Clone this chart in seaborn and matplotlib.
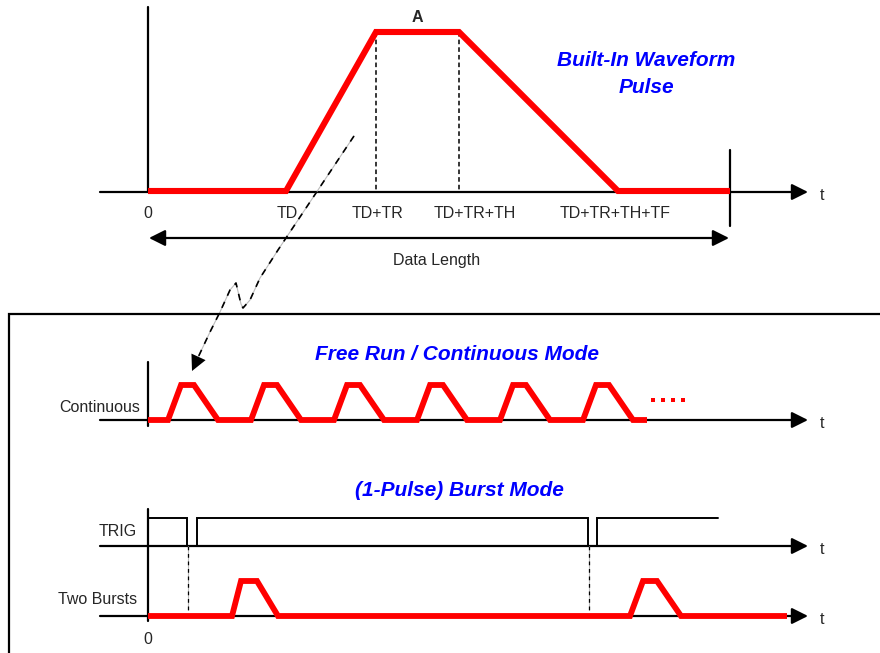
import numpy as np
import pandas as pd
import seaborn as sns
import matplotlib.pyplot as plt

sns.set_style("white")
plt.rcParams['font.family'] = ['Liberation Sans', 'DejaVu Sans']

# ---- data (time offsets from the t=0 axis, amplitudes 0..1) ----
top_t = [0, 138, 228, 311, 470, 582]
top_amp = [0, 0, 1, 1, 0, 0]
top_marks = [0, 139, 229, 327, 467]
top_labels = ["0", "TD", "TD+TR", "TD+TR+TH", "TD+TR+TH+TF"]

cont_t = [0, 20, 33, 46, 70, 103, 116, 129, 153, 186, 199, 212, 236,
          269, 282, 295, 319, 352, 365, 378, 402, 435, 448, 461, 485, 499]
cont_amp = [0, 0, 1, 1, 0, 0, 1, 1, 0, 0, 1, 1, 0,
            0, 1, 1, 0, 0, 1, 1, 0, 0, 1, 1, 0, 0]
more_dots = [505, 515, 525, 535]

trig_t = [0, 39, 39, 49, 49, 440, 440, 449, 449, 570]
trig_lvl = [1, 1, 0, 0, 1, 1, 0, 0, 1, 1]

burst_t = [0, 84, 93, 109, 130, 482, 495, 509, 533, 639]
burst_amp = [0, 0, 1, 1, 0, 0, 1, 1, 0, 0]
trig_edges = [40, 441]

# connector path from the top pulse down to the first continuous pulse
link_x = [206, 166, 130, 112, 102, 95, 93, 88, 82, 72, 62, 46]
link_y = [136, 196, 250, 278, 300, 308, 304, 283, 290, 312, 332, 366]

# ---- layout (pixels) ----
X0 = 148
RED = "#ff0000"
BLUE = "#0000ff"
FS = 11.5
base_top, h_top = 191, 159
base_cont, h_cont = 420, 35
base_trig, h_trig = 546, 28
base_burst, h_burst = 616, 35

fig = plt.figure(figsize=(8.8, 6.53), dpi=100)
ax = fig.add_axes([0, 0, 1, 1])
ax.set_xlim(-X0, 880 - X0)
ax.set_ylim(653, 0)
ax.axis("off")


def axis_arrow(y, x_start=-48, x_end=660):
    ax.annotate("", xy=(x_end, y), xytext=(x_start, y),
                arrowprops=dict(arrowstyle="-|>,head_length=0.7,head_width=0.35",
                                color="black", lw=1.6, shrinkA=0, shrinkB=0,
                                mutation_scale=14), zorder=2)
    ax.text(x_end + 12, y + 3, "t", fontsize=FS, ha="left", va="center")


def wave(t, amp, base, h, **kw):
    df = pd.DataFrame({"t": t, "y": [base - a * h for a in amp]})
    sns.lineplot(data=df, x="t", y="y", ax=ax, sort=False, estimator=None,
                 solid_joinstyle="miter", solid_capstyle="butt", zorder=5, **kw)


# ---- top panel: built-in pulse ----
axis_arrow(base_top + 1)
ax.plot([0, 0], [7, base_top + 1], color="black", lw=1.6)
for t in top_t[2:4]:
    ax.plot([t, t], [base_top - h_top, base_top], color="black", lw=1.1, ls=(0, (3, 2)))
wave(top_t, top_amp, base_top, h_top, color=RED, lw=4.4)
ax.plot([582, 582], [150, 226], color="black", lw=1.6)
for t, lab in zip(top_marks, top_labels):
    ax.text(t, 214, lab, fontsize=FS, ha="center", va="center")
ax.text((top_t[2] + top_t[3]) / 2, 18, "A", fontsize=FS, fontweight="bold",
        ha="center", va="center")
ax.text(498, 74, "Built-In Waveform\nPulse", fontsize=15, fontweight="bold",
        style="italic", color=BLUE, ha="center", va="center", linespacing=1.5)
ax.annotate("", xy=(1, 238), xytext=(581, 238),
            arrowprops=dict(arrowstyle="<|-|>,head_length=0.7,head_width=0.35",
                            color="black", lw=1.6, shrinkA=0, shrinkB=0,
                            mutation_scale=14))
ax.text(289, 261, "Data Length", fontsize=FS, ha="center", va="center")

# ---- dashed connector ----
ax.plot(link_x, link_y, color="#bbbbbb", lw=0.8)
ax.plot(link_x, link_y, color="black", lw=1.2, ls=(0, (4, 4)))
ax.annotate("", xy=(44, 371), xytext=(link_x[-2], link_y[-2]),
            arrowprops=dict(arrowstyle="-|>,head_length=0.8,head_width=0.4",
                            color="black", lw=0, shrinkA=14, shrinkB=0,
                            mutation_scale=14))

# ---- lower box ----
ax.plot([9 - X0, 9 - X0, 880 - X0], [660, 314, 314], color="black", lw=1.6,
        solid_joinstyle="miter")

# ---- continuous mode ----
ax.text(309, 355, "Free Run / Continuous Mode", fontsize=15, fontweight="bold",
        style="italic", color=BLUE, ha="center", va="center")
axis_arrow(base_cont)
ax.plot([0, 0], [362, 426], color="black", lw=1.6)
wave(cont_t, cont_amp, base_cont, h_cont, color=RED, lw=4.2)
sns.scatterplot(x=more_dots, y=[400] * len(more_dots), ax=ax, color=RED,
                marker="s", s=7, linewidth=0)
ax.text(-8, 408, "Continuous", fontsize=FS, ha="right", va="center")

# ---- burst mode ----
ax.text(311, 491, "(1-Pulse) Burst Mode", fontsize=15, fontweight="bold",
        style="italic", color=BLUE, ha="center", va="center")
axis_arrow(base_trig)
axis_arrow(base_burst)
ax.plot([0, 0], [509, 621], color="black", lw=1.6)
ax.plot(trig_t, [base_trig - v * h_trig for v in trig_lvl], color="black", lw=1.4,
        solid_joinstyle="miter")
for t in trig_edges:
    ax.plot([t, t], [base_trig, 610], color="#bbbbbb", lw=0.8)
    ax.plot([t, t], [base_trig, 610], color="black", lw=0.9, ls=(0, (3, 3)))
wave(burst_t, burst_amp, base_burst, h_burst, color=RED, lw=4.2)
ax.text(-11, 532, "TRIG", fontsize=FS, ha="right", va="center")
ax.text(-11, 600, "Two Bursts", fontsize=FS, ha="right", va="center")
ax.text(0, 639, "0", fontsize=FS, ha="center", va="center")

fig.savefig("out.png", dpi=100)
